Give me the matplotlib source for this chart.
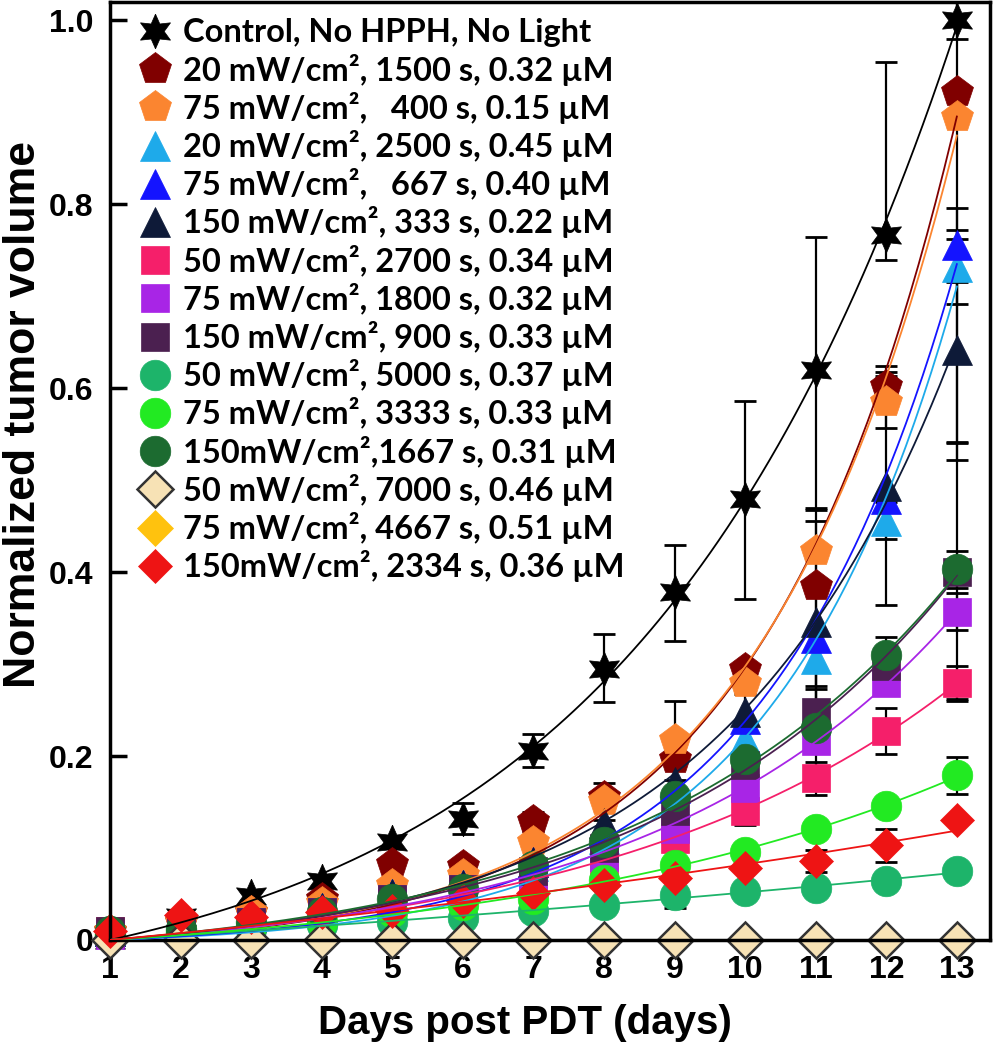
import matplotlib
matplotlib.use('Agg')
import matplotlib.pyplot as plt
from matplotlib.lines import Line2D
import numpy as np

days = np.arange(1, 14)

labels = ['Control, No HPPH, No Light',
          '20 mW/cm², 1500 s, 0.32 µM',
          '75 mW/cm²,   400 s, 0.15 µM',
          '20 mW/cm², 2500 s, 0.45 µM',
          '75 mW/cm²,   667 s, 0.40 µM',
          '150 mW/cm², 333 s, 0.22 µM',
          '50 mW/cm², 2700 s, 0.34 µM',
          '75 mW/cm², 1800 s, 0.32 µM',
          '150 mW/cm², 900 s, 0.33 µM',
          '50 mW/cm², 5000 s, 0.37 µM',
          '75 mW/cm², 3333 s, 0.33 µM',
          '150mW/cm²,1667 s, 0.31 µM',
          '50 mW/cm², 7000 s, 0.46 µM',
          '75 mW/cm², 4667 s, 0.51 µM',
          '150mW/cm², 2334 s, 0.36 µM']

# normalized tumor volume per group, days 1..13
control = [0.0, 0.025, 0.048, 0.064, 0.107, 0.132, 0.206, 0.295, 0.378, 0.48, 0.62, 0.767, 1.0]
p20_1500 = [0.01, 0.02, 0.03, 0.045, 0.083, 0.08, 0.129, 0.155, 0.197, 0.295, 0.385, 0.602, 0.922]
p75_400 = [0.01, 0.02, 0.03, 0.04, 0.06, 0.071, 0.107, 0.151, 0.217, 0.28, 0.423, 0.585, 0.895]
p20_2500 = [0.01, 0.015, 0.025, 0.035, 0.05, 0.06, 0.08, 0.11, 0.15, 0.219, 0.306, 0.456, 0.732]
p75_667 = [0.01, 0.015, 0.025, 0.035, 0.05, 0.06, 0.085, 0.12, 0.165, 0.24, 0.328, 0.48, 0.756]
p150_333 = [0.01, 0.015, 0.025, 0.035, 0.05, 0.06, 0.085, 0.127, 0.172, 0.248, 0.346, 0.494, 0.642]
p50_2700 = [0.01, 0.012, 0.02, 0.027, 0.04, 0.05, 0.065, 0.085, 0.11, 0.14, 0.176, 0.227, 0.28]
p75_1800 = [0.005, 0.01, 0.02, 0.03, 0.045, 0.055, 0.07, 0.09, 0.121, 0.165, 0.216, 0.28, 0.357]
p150_900 = [0.01, 0.012, 0.02, 0.03, 0.045, 0.055, 0.075, 0.1, 0.14, 0.19, 0.248, 0.298, 0.40]
p50_5000 = [0.005, 0.008, 0.012, 0.016, 0.02, 0.024, 0.031, 0.038, 0.049, 0.053, 0.056, 0.064, 0.075]
p75_3333 = [0.005, 0.01, 0.015, 0.02, 0.03, 0.038, 0.045, 0.065, 0.081, 0.096, 0.121, 0.146, 0.179]
p150_1667 = [0.01, 0.012, 0.02, 0.03, 0.045, 0.055, 0.08, 0.107, 0.157, 0.197, 0.23, 0.31, 0.403]
p50_7000 = [0, 0, 0, 0, 0, 0, 0, 0, 0, 0, 0, 0, 0]
p75_4667 = [0, 0, 0, 0, 0, 0, 0, 0, 0, 0, 0, 0, 0]
p150_2334 = [0.01, 0.027, 0.025, 0.03, 0.031, 0.042, 0.051, 0.06, 0.067, 0.078, 0.086, 0.103, 0.13]

# error bars (0 = none drawn)
control_err_lo = [0, 0, 0, 0, 0, 0.017, 0.018, 0.036, 0.053, 0.109, 0.15, 0.027, 0.02]
control_err_hi = [0, 0, 0, 0, 0, 0.017, 0.018, 0.038, 0.052, 0.106, 0.145, 0.188, 0.02]
p20_1500_err = [0, 0, 0, 0, 0, 0, 0.01, 0, 0, 0, 0, 0.016, 0.38]
p75_400_err = [0, 0, 0, 0, 0, 0, 0, 0.02, 0.043, 0, 0, 0.028, 0]
p20_2500_err = [0, 0, 0, 0, 0, 0, 0, 0, 0, 0, 0.03, 0.02, 0.04]
p75_667_err = [0, 0, 0, 0, 0, 0, 0, 0, 0, 0, 0.14, 0, 0.04]
p150_333_err = [0, 0, 0, 0, 0, 0, 0, 0, 0, 0.02, 0.11, 0.13, 0.12]
p50_2700_err = [0, 0, 0, 0, 0, 0, 0, 0, 0.013, 0.015, 0.018, 0.025, 0.018]
p75_1800_err = [0, 0, 0, 0, 0, 0, 0, 0, 0, 0, 0, 0, 0.02]
p150_900_err = [0, 0, 0, 0, 0, 0, 0, 0, 0, 0, 0.025, 0, 0.14]
p50_5000_err = [0, 0, 0, 0, 0, 0, 0, 0, 0.014, 0, 0, 0, 0]
p75_3333_err = [0, 0, 0, 0, 0, 0, 0, 0, 0, 0, 0, 0, 0.02]
p150_1667_err = [0, 0, 0, 0, 0, 0, 0, 0, 0, 0, 0, 0.02, 0.02]
p150_2334_err = [0, 0, 0, 0, 0, 0, 0, 0, 0, 0, 0.012, 0.018, 0]

series = [control, p20_1500, p75_400, p20_2500, p75_667, p150_333, p50_2700,
          p75_1800, p150_900, p50_5000, p75_3333, p150_1667, p50_7000, p75_4667, p150_2334]
errors = [(control_err_lo, control_err_hi), p20_1500_err, p75_400_err, p20_2500_err, p75_667_err,
          p150_333_err, p50_2700_err, p75_1800_err, p150_900_err, p50_5000_err, p75_3333_err,
          p150_1667_err, None, None, p150_2334_err]

colors = ['black', '#800000', '#fb8530', '#1eaaea', '#1414ff', '#0e1a38', '#f51f6a',
          '#a825e6', '#4b2050', '#1db46a', '#22ea22', '#1c6b30', '#f7e2b5', '#ffc20e', '#ee1414']
markers = [(6, 1, 0), 'p', 'p', '^', '^', '^', 's', 's', 's', 'o', 'o', 'o', 'D', 'D', 'D']
sizes = [25, 24, 24, 22, 22, 22, 20, 20, 20, 22, 22, 22, 18, 18, 17]
fitted = [True] * 12 + [False, False, True]
# drawing order: yellow diamonds sit beneath the beige ones
zorders = [2 + i * 0.01 for i in range(15)]
zorders[13] = 1.9


def exp_fit(x, y):
    # y = a * (exp(b*(x-1)) - 1), least squares over b
    best = None
    for b in np.linspace(0.01, 0.6, 600):
        g = np.exp(b * (x - 1)) - 1
        a = (g @ y) / (g @ g)
        r = np.sum((a * g - y) ** 2)
        if best is None or r < best[0]:
            best = (r, a, b)
    return best[1], best[2]


plt.rcParams['font.family'] = ['Liberation Sans', 'DejaVu Sans']

fig = plt.figure(figsize=(9.95, 10.5), dpi=100)
ax = fig.add_axes([0.1106, 0.1048, 0.8844, 0.8932])

xs = np.linspace(1, 13, 200)
for i, y in enumerate(series):
    y = np.array(y)
    err = errors[i]
    if err is not None:
        if isinstance(err, tuple):
            lo = np.array(err[0]); hi = np.array(err[1])
        else:
            lo = np.array(err); hi = np.array(err)
        m = (lo > 0) | (hi > 0)
        ax.errorbar(days[m], y[m], yerr=[lo[m], hi[m]], fmt='none', ecolor='black',
                    elinewidth=1.6, capsize=8, capthick=2, zorder=1.5)
    ec = '#333333' if i == 12 else colors[i]
    ax.plot(days, y, linestyle='none', marker=markers[i], markersize=sizes[i],
            color=colors[i], markeredgecolor=ec, markeredgewidth=1.8 if i == 12 else 0.5,
            clip_on=False, zorder=zorders[i])

for i, y in enumerate(series):
    if fitted[i]:
        a, b = exp_fit(days.astype(float), np.array(y))
        ax.plot(xs, a * (np.exp(b * (xs - 1)) - 1), color=colors[i], lw=1.3, zorder=3)

ax.set_xlim(1, 13.47)
ax.set_ylim(0, 1.02)
ax.set_xticks(days)
ax.set_xticklabels([str(d) for d in days], fontsize=23, fontweight='bold')
ax.set_yticks([0, 0.2, 0.4, 0.6, 0.8, 1.0])
ax.set_yticklabels(['0', '0.2', '0.4', '0.6', '0.8', '1.0'], fontsize=23, fontweight='bold')
ax.tick_params(axis='y', direction='in', length=12, width=2.5, pad=12)
ax.tick_params(axis='x', direction='in', length=0, pad=11)
for s in ax.spines.values():
    s.set_linewidth(2.5)

ax.set_xlabel('Days post PDT (days)', fontsize=29, fontweight='bold')
ax.xaxis.set_label_coords(0.472, -0.068)
ax.set_ylabel('Normalized tumor volume', fontsize=32, fontweight='bold')
ax.yaxis.set_label_coords(-0.075, 0.56)

handles = [Line2D([], [], linestyle='none', marker=markers[i], markersize=sizes[i],
                  color=colors[i], markeredgecolor='#333333' if i == 12 else colors[i],
                  markeredgewidth=1.8 if i == 12 else 0.5) for i in range(len(series))]
ax.legend(handles, labels, loc='upper left', bbox_to_anchor=(0.012, 1.0), frameon=False,
          prop={'family': ['Lato', 'DejaVu Sans'], 'weight': 'bold', 'size': 23.5},
          handlelength=1.1, handletextpad=0.3, labelspacing=0.19, borderaxespad=0.1)

fig.savefig('out.png', dpi=100)
